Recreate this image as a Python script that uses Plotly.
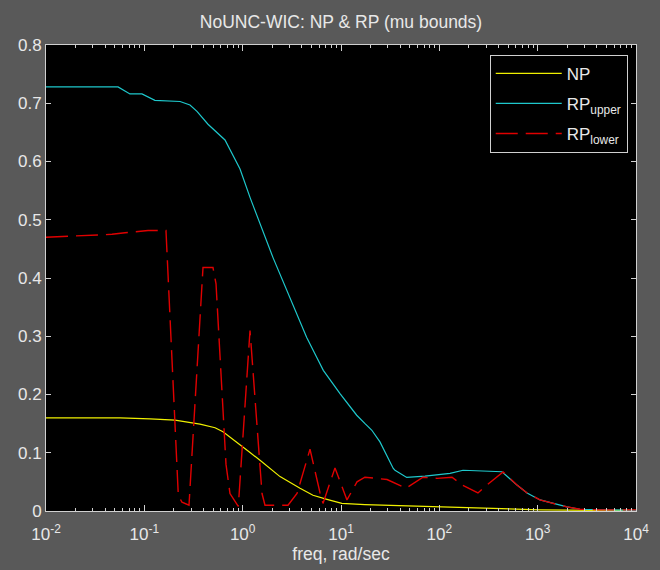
import plotly.graph_objects as go

# NP
np_freq = [0.01, 0.0566, 0.1142, 0.205, 0.368, 0.524, 0.631, 0.780, 0.940, 1.188, 1.501, 1.897,
           2.398, 3.83, 5.19, 7.20, 10.2, 17.5, 68.2, 170, 386, 1057, 4305, 10000]
np_vals = [0.160, 0.160, 0.158, 0.156, 0.149, 0.143, 0.136, 0.1245, 0.113, 0.1005, 0.087, 0.073,
           0.059, 0.039, 0.027, 0.020, 0.013, 0.011, 0.008, 0.006, 0.004, 0.002, 0.001, 0.001]

# RP upper
up_freq = [0.01, 0.054, 0.0714, 0.0946, 0.128, 0.231, 0.291, 0.343, 0.444, 0.661, 0.940, 1.19,
           2.035, 3.25, 4.48, 5.66, 6.61, 9.77, 14.45, 17.55, 20.5, 24.9, 34.0, 35.4, 46.6, 71.5,
           94.7, 128.4, 174, 278, 434, 616, 780, 1057, 1432, 1988, 2697, 4305, 10000]
up_vals = [0.728, 0.728, 0.716, 0.716, 0.705, 0.703, 0.697, 0.686, 0.664, 0.637, 0.587, 0.538,
           0.435, 0.355, 0.298, 0.264, 0.2415, 0.2016, 0.1644, 0.150, 0.139, 0.1187, 0.073, 0.070,
           0.0577, 0.060, 0.0617, 0.0646, 0.070, 0.0685, 0.0674, 0.0445, 0.031, 0.019, 0.013,
           0.007, 0.003, 0.002, 0.001]

# RP lower
lo_freq = [0.01, 0.0267, 0.0469, 0.0636, 0.109, 0.166, 0.2216, 0.2415, 0.2846, 0.395, 0.499,
           0.536, 0.612, 0.677, 0.743, 0.903, 1.188, 1.573, 1.687, 2.89, 3.57, 4.84, 6.12, 6.56,
           8.69, 11.5, 14.55, 17.5, 29.4, 45.8, 68.2, 94.7, 134.6, 170, 247, 292, 445, 616, 780,
           1057, 1432, 1988, 2697, 4305, 10000]
lo_vals = [0.470, 0.473, 0.475, 0.4776, 0.4815, 0.4815, 0.027, 0.015, 0.010, 0.418, 0.418,
           0.390, 0.210, 0.080, 0.030, 0.008, 0.310, 0.030, 0.010, 0.010, 0.030, 0.106, 0.031,
           0.013, 0.074, 0.019, 0.050, 0.058, 0.054, 0.039, 0.058, 0.056, 0.058, 0.045, 0.031,
           0.042, 0.067, 0.0445, 0.031, 0.019, 0.013, 0.007, 0.003, 0.002, 0.002]

x_tickvals = [1e-2, 1e-1, 1e0, 1e1, 1e2, 1e3, 1e4]
x_ticktext = ["10<sup>-2</sup>", "10<sup>-1</sup>", "10<sup>0</sup>", "10<sup>1</sup>",
              "10<sup>2</sup>", "10<sup>3</sup>", "10<sup>4</sup>"]
x_minor_vals = [m * d for d in [1e-2, 1e-1, 1e0, 1e1, 1e2, 1e3] for m in range(2, 10)]
y_tickvals = [0, 0.1, 0.2, 0.3, 0.4, 0.5, 0.6, 0.7, 0.8]
y_ticktext = ["0", "0.1", "0.2", "0.3", "0.4", "0.5", "0.6", "0.7", "0.8"]

FONT = "Liberation Sans, Arial, sans-serif"
TXT = "#e8e8e8"
AX = "#d0d0d0"

fig = go.Figure()
fig.add_trace(go.Scatter(x=np_freq, y=np_vals, mode="lines", name="NP", legendgroup="a",
                         line=dict(color="#f0f000", width=1.2)))
fig.add_trace(go.Scatter(x=up_freq, y=up_vals, mode="lines", name="RP<sub>upper</sub>",
                         legendgroup="b", line=dict(color="#1ec8cc", width=1.2)))
fig.add_trace(go.Scatter(x=lo_freq, y=lo_vals, mode="lines", name="RP<sub>lower</sub>",
                         legendgroup="c", line=dict(color="#e00000", width=1.4, dash="22px,8px")))

fig.update_layout(
    width=660, height=570,
    paper_bgcolor="#595959", plot_bgcolor="#000000",
    margin=dict(l=46, r=24, t=45, b=59),
    font=dict(family=FONT, size=17, color=TXT),
    title=dict(text="NoUNC-WIC: NP & RP (mu bounds)", x=0.5, xref="paper",
               y=1 - 22 / 570, yref="container", xanchor="center", yanchor="middle",
               font=dict(size=17.5, color=TXT)),
    showlegend=True,
    legend=dict(x=0.986, y=0.979, xanchor="right", yanchor="top",
                bgcolor="#000000", bordercolor=AX, borderwidth=1,
                font=dict(size=17, color=TXT), tracegroupgap=5, itemwidth=66),
)
fig.update_xaxes(
    type="log", range=[-2, 4], tickmode="array", tickvals=x_tickvals, ticktext=x_ticktext,
    ticks="inside", ticklen=6, tickcolor=AX, showline=True, linecolor=AX, linewidth=1,
    mirror="ticks", showgrid=False, zeroline=False, ticklabelstandoff=8,
    minor=dict(ticks="inside", ticklen=3, tickmode="array", tickvals=x_minor_vals,
               tickcolor=AX, showgrid=False),
    title=dict(text="freq, rad/sec", standoff=4, font=dict(size=17.5, color=TXT)),
    automargin=False,
)
fig.update_yaxes(
    range=[0, 0.8], tickmode="array", tickvals=y_tickvals, ticktext=y_ticktext,
    ticks="inside", ticklen=5, tickcolor=AX, showline=True, linecolor=AX, linewidth=1,
    mirror="ticks", showgrid=False, zeroline=False, automargin=False,
)

fig.write_html("out.html", config={"displayModeBar": False},
               post_script="document.body.style.margin='0';")
